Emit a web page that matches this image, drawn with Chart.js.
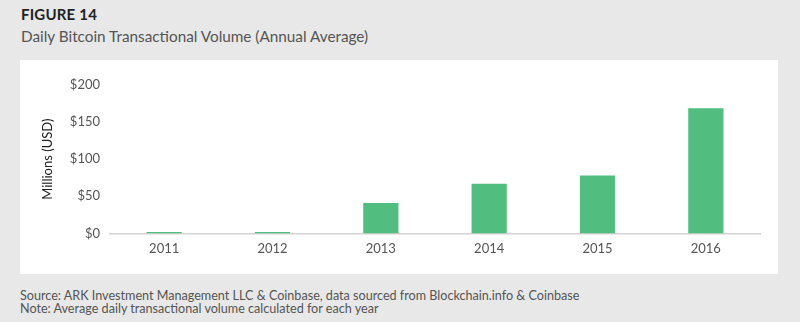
<!DOCTYPE html>
<html><head><meta charset="utf-8">
<script src="https://cdn.jsdelivr.net/npm/chart.js@4"></script>
<style>
html,body{margin:0;padding:0;}
body{width:800px;height:322px;background:#e7e8e7;position:relative;overflow:hidden;font-family:"Lato","Open Sans",sans-serif;}
#t1{position:absolute;left:21px;top:5px;font-size:15px;font-weight:bold;color:#222;letter-spacing:0.2px;}
#t2{position:absolute;left:21px;top:27px;font-size:15.3px;color:#555;}
#panel{position:absolute;left:20px;top:60px;width:758px;height:214px;background:#fff;}
#foot{position:absolute;left:20px;top:289px;font-size:12.6px;color:#555;line-height:13px;}
</style></head>
<body>
<div id="t1">FIGURE 14</div>
<div id="t2">Daily Bitcoin Transactional Volume (Annual Average)</div>
<div id="panel"><canvas id="c" width="758" height="214"></canvas></div>
<div id="foot">Source: ARK Investment Management LLC &amp; Coinbase, data sourced from Blockchain.info &amp; Coinbase<br>Note: Average daily transactional volume calculated for each year</div>
<script>
const categories = ["2011","2012","2013","2014","2015","2016"];
const volumes = [2, 2, 41, 67, 78, 168.5];
const yTicks = [0, 50, 100, 150, 200];

new Chart(document.getElementById('c'), {
  type: 'bar',
  data: { labels: categories, datasets: [{ data: volumes, backgroundColor: '#51bd7e', barPercentage: 0.65, categoryPercentage: 0.5 }] },
  options: {
    responsive: false, animation: false,
    layout: { padding: { top: 25, right: 18, bottom: 9, left: 20 } },
    plugins: { legend: { display: false }, tooltip: { enabled: false } },
    scales: {
      x: {
        grid: { display: false, drawTicks: false },
        border: { display: true, color: '#d3d3d3', width: 1.5 },
        ticks: { color: '#555', font: { size: 13, family: 'Lato' }, padding: 8 }
      },
      y: {
        min: 0, max: 200,
        afterBuildTicks: s => { s.ticks = yTicks.map(v => ({ value: v })); },
        afterFit: s => { s.width = 70; },
        grid: { display: false, drawTicks: false },
        border: { display: false },
        ticks: { color: '#555', font: { size: 13, family: 'Lato' }, padding: 10, callback: v => '$' + v },
        title: { display: true, text: 'Millions (USD)', color: '#222', font: { size: 13, family: 'Lato' }, padding: { top: 0, bottom: 0 } }
      }
    }
  }
});
</script>
</body></html>
